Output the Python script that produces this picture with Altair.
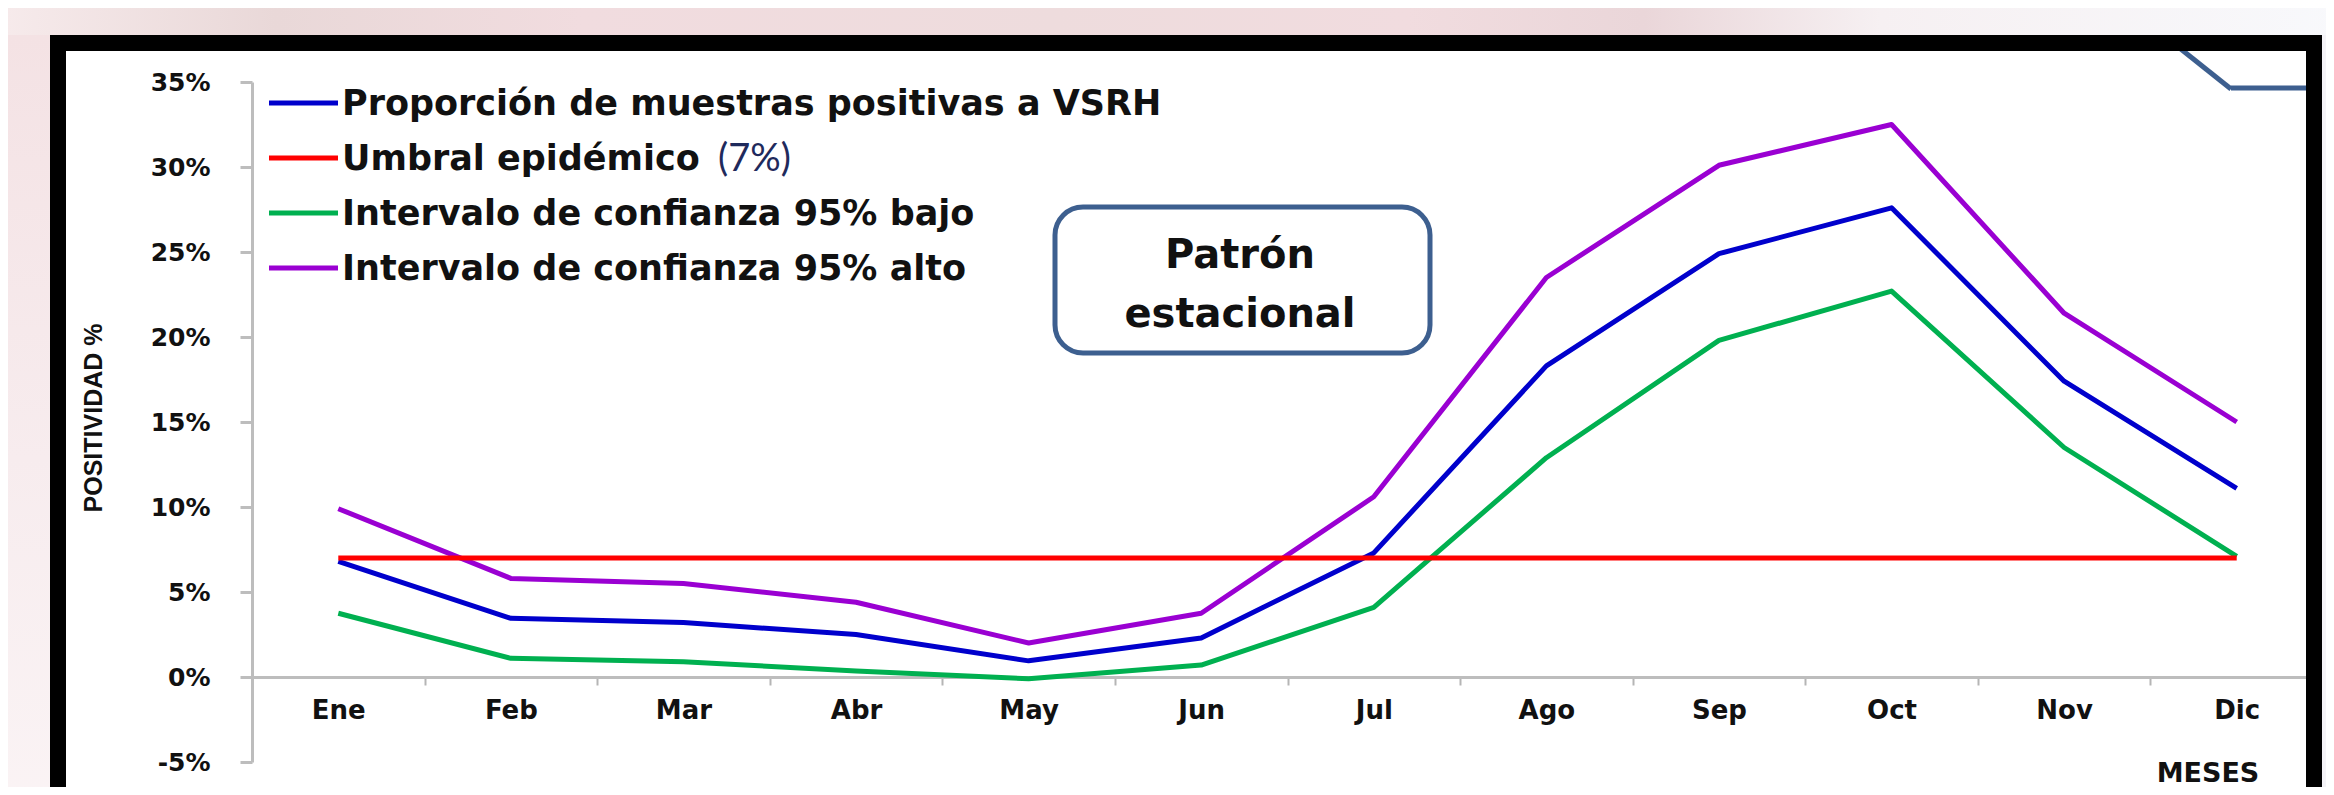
import altair as alt
import pandas as pd

# ---------------- data ----------------
months = ["Ene", "Feb", "Mar", "Abr", "May", "Jun", "Jul", "Ago", "Sep", "Oct", "Nov", "Dic"]
proporcion = [6.8, 3.45, 3.2, 2.5, 0.95, 2.3, 7.3, 18.3, 24.9, 27.6, 17.4, 11.1]
umbral = [7.0, 7.0, 7.0, 7.0, 7.0, 7.0, 7.0, 7.0, 7.0, 7.0, 7.0, 7.0]
ic_bajo = [3.75, 1.1, 0.9, 0.35, -0.1, 0.7, 4.1, 12.9, 19.8, 22.7, 13.5, 7.1]
ic_alto = [9.9, 5.8, 5.5, 4.4, 2.0, 3.75, 10.6, 23.5, 30.1, 32.5, 21.4, 15.0]

series_names = [
    "Proporción de muestras positivas a VSRH",
    "Umbral epidémico",
    "Intervalo de confianza 95% bajo",
    "Intervalo de confianza 95% alto",
]
series_colors = ["#0000CC", "#FF0000", "#00B050", "#9A00D2"]
legend_suffix = "(7%)"
y_ticks = [-5, 0, 5, 10, 15, 20, 25, 30, 35]
y_title = "POSITIVIDAD %"
x_title = "MESES"
note_lines = ["Patrón", "estacional"]

rows = []
for name, vals in zip(series_names, [proporcion, umbral, ic_bajo, ic_alto]):
    for m, v in zip(months, vals):
        rows.append({"mes": m, "valor": v, "serie": name})
df = pd.DataFrame(rows)
df_main = df[df["serie"] != series_names[1]]
df_thr = df[df["serie"] == series_names[1]]

one = pd.DataFrame({"k": [0]})

# ---------------- geometry (plot area) ----------------
W, H = 2071, 680
FONT = "DejaVu Sans"
AXIS_GRAY = "#bdbdbd"

x_enc = alt.X(
    "mes:N",
    sort=months,
    scale=alt.Scale(type="band", domain=months, paddingInner=0, paddingOuter=0),
    axis=alt.Axis(
        title=None, tickBand="extent", offset=-85, labelAngle=0,
        labelFont=FONT, labelFontWeight="bold", labelFontSize=26, labelColor="#111111",
        labelPadding=12, tickSize=8, tickWidth=2, tickColor="#b5b5b5",
        domainColor=AXIS_GRAY, domainWidth=3, grid=False,
    ),
)
y_enc = alt.Y(
    "valor:Q",
    scale=alt.Scale(domain=[-5, 35], nice=False, zero=False),
    axis=alt.Axis(
        title=None, values=y_ticks, labelExpr="datum.value + '%'",
        labelFont=FONT, labelFontWeight="bold", labelFontSize=25, labelColor="#111111",
        labelPadding=30, tickSize=12, tickWidth=3, tickColor=AXIS_GRAY,
        domainColor=AXIS_GRAY, domainWidth=3, grid=False,
    ),
)
color_enc = alt.Color("serie:N", scale=alt.Scale(domain=series_names, range=series_colors), legend=None)

lines = alt.Chart(df_main).mark_line(strokeWidth=5, strokeJoin="round").encode(
    x=x_enc, y=y_enc, color=color_enc
)
thr = alt.Chart(df_thr).mark_line(strokeWidth=5).encode(x=x_enc, y=y_enc, color=color_enc)


def rect(x, x2, y, y2, **kw):
    return alt.Chart(one).mark_rect(**kw).encode(
        x=alt.value(x), x2=alt.value(x2), y=alt.value(y), y2=alt.value(y2)
    )


def rule(x, x2, y, y2, **kw):
    return alt.Chart(one).mark_rule(**kw).encode(
        x=alt.value(x), x2=alt.value(x2), y=alt.value(y), y2=alt.value(y2)
    )


def text(t, x, y, **kw):
    return alt.Chart(one).mark_text(text=t, **kw).encode(x=alt.value(x), y=alt.value(y))


top_grad = alt.LinearGradient(
    gradient="linear", x1=0, x2=1, y1=0, y2=0,
    stops=[
        alt.GradientStop(color="#f7ebec", offset=0),
        alt.GradientStop(color="#e9d8d8", offset=0.12),
        alt.GradientStop(color="#f1dcdf", offset=0.25),
        alt.GradientStop(color="#eedcdd", offset=0.45),
        alt.GradientStop(color="#f1dcdf", offset=0.6),
        alt.GradientStop(color="#ead6d9", offset=0.7),
        alt.GradientStop(color="#f6f0f2", offset=0.8),
        alt.GradientStop(color="#f8f9fc", offset=1),
    ],
)
left_grad = alt.LinearGradient(
    gradient="linear", x1=0, x2=0, y1=0, y2=1,
    stops=[
        alt.GradientStop(color="#f4e2e4", offset=0),
        alt.GradientStop(color="#f7ecee", offset=0.5),
        alt.GradientStop(color="#fbf5f6", offset=1),
    ],
)

bg_top = rect(-260, 2100, -90, -47, color=top_grad)
bg_left = rect(-260, -202, -47, 800, color=left_grad)
bg_right = rect(2070, 2100, -47, 800, color="#f4f3f7")

deco1 = rule(1915, 1979, -44, 7, color="#3d5f8f", strokeWidth=5)
deco2 = rule(1979, 2056, 6, 6, color="#3d5f8f", strokeWidth=5)

frame = rect(-194, 2062, -39, 900, fillOpacity=0, stroke="#000000", strokeWidth=16)

note_box = rect(803, 1178, 125, 271, fill="#ffffff", stroke="#3d5f8f", strokeWidth=5, cornerRadius=28)
note1 = text(note_lines[0], 988, 186, font=FONT, fontWeight="bold", fontSize=40,
             align="center", baseline="alphabetic", color="#111111")
note2 = text(note_lines[1], 988, 245, font=FONT, fontWeight="bold", fontSize=40,
             align="center", baseline="alphabetic", color="#111111")

LEG_FS = 35
leg_layers = []
for i, (name, col) in enumerate(zip(series_names, series_colors)):
    ly = 21 + 55 * i
    leg_layers.append(rule(17, 86, ly, ly, color=col, strokeWidth=5))
    leg_layers.append(text(name, 90, ly + 12, font=FONT, fontWeight="bold", fontSize=LEG_FS,
                           align="left", baseline="alphabetic", color="#111111"))
suffix = text(legend_suffix, 90 + 10.23 * LEG_FS + 18, 76 + 13, font="Lato", fontSize=38,
              align="left", baseline="alphabetic", color="#1f2a5c")

ytitle = text(y_title, -158, 336, font="Liberation Sans", fontWeight="bold", fontSize=25,
              angle=270, align="center", baseline="middle", color="#111111")
xtitle = text(x_title, 1956, 700, font=FONT, fontWeight="bold", fontSize=27,
              align="center", baseline="alphabetic", color="#111111")

chart = alt.layer(
    bg_top, bg_left, bg_right, deco1, deco2,
    lines, thr,
    frame, note_box, note1, note2,
    *leg_layers, suffix, ytitle, xtitle,
).properties(
    width=W, height=H,
    autosize=alt.AutoSizeParams(type="none"),
    padding={"left": 244, "top": 74, "right": 3, "bottom": 25},
    background="#ffffff",
).configure_view(stroke=None)

chart.save("out.html", embed_options={"renderer": "svg", "actions": False})
